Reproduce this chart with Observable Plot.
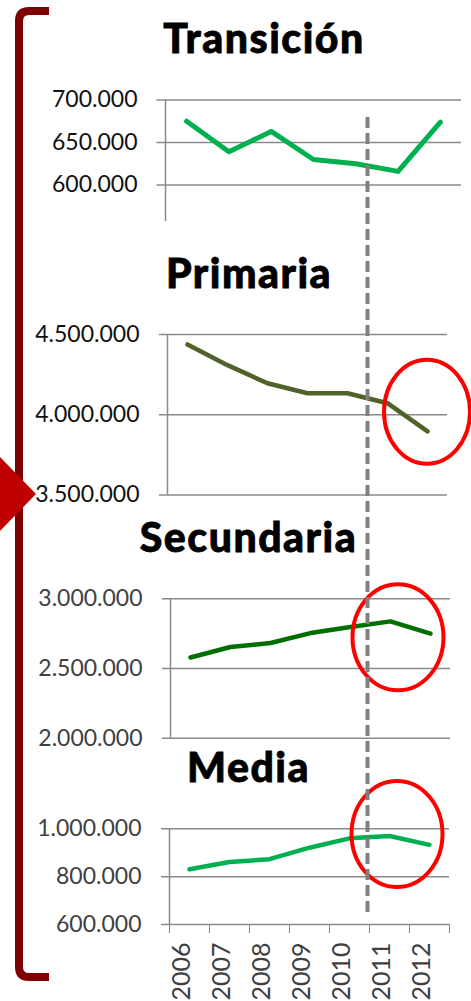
<!DOCTYPE html>
<html><head><meta charset="utf-8">
<script src="https://cdn.jsdelivr.net/npm/d3@7"></script>
<script src="https://cdn.jsdelivr.net/npm/@observablehq/plot@0.6"></script>
<style>
html,body{margin:0;padding:0;background:#fff;}
#root{position:relative;width:471px;height:1001px;overflow:hidden;font-family:Lato,sans-serif;}
.title{position:absolute;font-weight:900;font-size:41px;line-height:41px;letter-spacing:1.5px;-webkit-text-stroke:0.8px #000;color:#000;white-space:nowrap;transform:translateX(-50%);}
.panel{position:absolute;left:0;}
</style></head><body><div id="root"></div>
<script>
// ---- data ----
const years = [2006, 2007, 2008, 2009, 2010, 2011, 2012];
const titles = ["Transición", "Primaria", "Secundaria", "Media"];
const transicion = [675000, 639000, 663000, 630000, 625000, 616000, 674000];
const primaria = [4438000, 4309000, 4196000, 4134000, 4134000, 4072000, 3896000];
const secundaria = [2579000, 2654000, 2683000, 2754000, 2797000, 2838000, 2750000];
const media = [831000, 861000, 873000, 921000, 960000, 970000, 933000];
const transicionTicks = [600000, 650000, 700000];
const primariaTicks = [3500000, 4000000, 4500000];
const secundariaTicks = [2000000, 2500000, 3000000];
const mediaTicks = [600000, 800000, 1000000];
const dividerYear = 2010.5; // between 2010 and 2011

const fmt = d => d3.format(",")(d).replace(/,/g, ".");
const bounds = d3.range(years.length + 1).map(i => years[0] - 0.5 + i);
const root = document.getElementById("root");

function ellipseMark(c) {
  return (index, {x, y}) => d3.create("svg:ellipse")
    .attr("cx", x(c.year)).attr("cy", y(c.value))
    .attr("rx", c.rx).attr("ry", c.ry)
    .attr("fill", "none").attr("stroke", "#ff0000").attr("stroke-width", 4).node();
}

function panel(o) {
  const data = years.map((year, i) => ({year, value: o.values[i]}));
  const marks = [
    Plot.ruleY(o.ticks, {x1: bounds[0] - 0.2, x2: bounds[bounds.length - 1], stroke: "#8a8a8a", strokeWidth: 1.5}),
    Plot.ruleX([bounds[0]], {stroke: "#8a8a8a", strokeWidth: 1.5}),
    Plot.text(o.ticks, {y: d => d, frameAnchor: "left", dx: -28, textAnchor: "end", text: fmt, fill: o.labelColor, fontSize: 23}),
    Plot.line(data, {x: "year", y: "value", stroke: o.color, strokeWidth: o.sw, strokeLinejoin: "round", strokeLinecap: "round"})
  ];
  if (o.xAxis) {
    marks.push(Plot.text(years, {x: d => d, text: d => String(d), frameAnchor: "bottom", dy: 18, rotate: -90, textAnchor: "end", fill: "#404040", fontSize: 25}));
  }
  if (o.circle) marks.push(ellipseMark(o.circle));
  const svg = Plot.plot({
    width: 471, height: o.height,
    marginTop: o.mt, marginBottom: o.mb, marginLeft: o.ml, marginRight: o.mr,
    x: o.xAxis
      ? {domain: [bounds[0], bounds[bounds.length - 1]], axis: "bottom", ticks: bounds, tickSize: 9, tickFormat: () => "", label: null}
      : {domain: [bounds[0], bounds[bounds.length - 1]], axis: null},
    y: {domain: o.domain, axis: null},
    style: {background: "transparent", overflow: "visible", fontFamily: "Lato, sans-serif", color: "#8a8a8a"},
    marks
  });
  svg.classList.add("panel");
  svg.style.top = o.top + "px";
  svg.style.position = "absolute";
  root.appendChild(svg);
}

panel({values: transicion, ticks: transicionTicks, domain: [557000, 700000], color: "#00b050", sw: 5, labelColor: "#111",
  top: 80, height: 151, mt: 19.5, mb: 10, ml: 165, mr: 10});
panel({values: primaria, ticks: primariaTicks, domain: [3500000, 4500000], color: "#4f6228", sw: 4.5, labelColor: "#111",
  top: 300, height: 204.5, mt: 34, mb: 10, ml: 167, mr: 24,
  circle: {year: 2012, value: 4016000, rx: 43, ry: 52}});
panel({values: secundaria, ticks: secundariaTicks, domain: [2000000, 3000000], color: "#006f00", sw: 4.5, labelColor: "#404040",
  top: 570, height: 177.7, mt: 28.3, mb: 10, ml: 170, mr: 21,
  circle: {year: 2011.2, value: 2720000, rx: 45.5, ry: 53}});
panel({values: media, ticks: mediaTicks, domain: [600000, 1000000], color: "#00b050", sw: 4.5, labelColor: "#404040",
  top: 800, height: 201, mt: 28.3, mb: 77, ml: 169, mr: 22, xAxis: true,
  circle: {year: 2011.2, value: 976000, rx: 45.5, ry: 53}});

// titles
const titlePos = [[264, 16.6], [249, 251.6], [248.5, 515.6], [248.5, 745.6]];
titles.forEach((t, i) => {
  const d = document.createElement("div");
  d.className = "title";
  d.textContent = t;
  d.style.left = titlePos[i][0] + "px";
  d.style.top = titlePos[i][1] + "px";
  root.appendChild(d);
});

// overlay: dashed divider, bracket, arrow
const decor = () => {
  const g = d3.create("svg:g");
  g.append("path").attr("d", "M49,11 L29,11 Q19,11 19,21 L19,967 Q19,977 29,977 L49,977")
    .attr("fill", "none").attr("stroke", "#7f0000").attr("stroke-width", 8);
  g.append("path").attr("d", "M-2,455 L36,494 L-2,533 Z").attr("fill", "#c00000");
  return g.node();
};
const overlay = Plot.plot({
  width: 471, height: 1001, marginTop: 117, marginBottom: 84, marginLeft: 167, marginRight: 24,
  x: {domain: [bounds[0], bounds[bounds.length - 1]], axis: null},
  style: {background: "transparent", overflow: "visible"},
  marks: [
    Plot.ruleX([dividerYear], {stroke: "#808080", strokeWidth: 4, strokeDasharray: "11,5"}),
    decor
  ]
});
overlay.style.position = "absolute";
overlay.style.top = "0px";
overlay.style.left = "0px";
root.appendChild(overlay);
</script></body></html>
